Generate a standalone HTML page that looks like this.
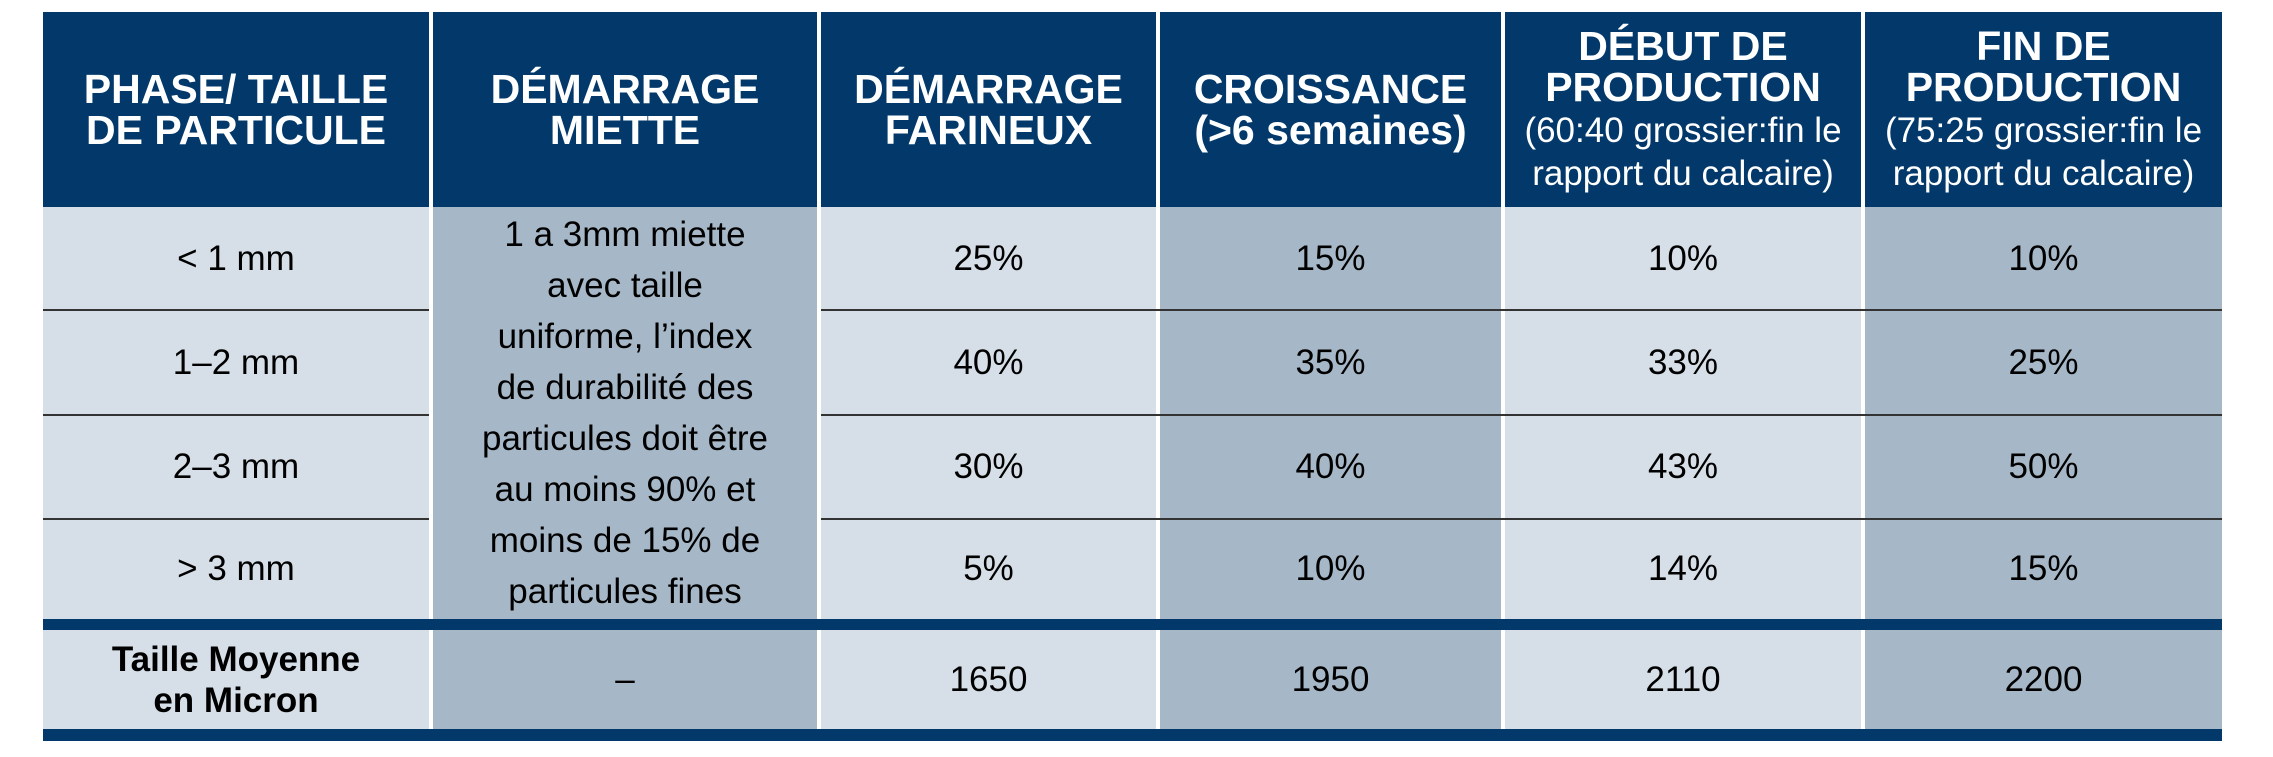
<!DOCTYPE html>
<html><head><meta charset="utf-8"><style>
body{margin:0;width:2273px;height:757px;background:#fff;position:relative;overflow:hidden;font-family:"Liberation Sans Narrow","Liberation Sans",sans-serif}
.c{position:absolute;display:flex;align-items:center;justify-content:center;text-align:center;box-sizing:border-box}
.h{background:#02386a;color:#fff;font-weight:bold;font-size:41px;line-height:41px}
.h small{font-weight:normal;font-size:35px;line-height:41px}
.l{background:#d6dfe7;color:#000;font-size:35px}
.d{background:#a6b8c8;color:#000;font-size:35px}
.sep{position:absolute;height:2px;background:#333;left:43px;width:2179px}
.band{position:absolute;background:#02386a;left:43px;width:2179px}
</style></head><body>
<div>
<!-- header -->
<div class="c h" style="left:43px;top:12px;width:386px;height:195px">PHASE/ TAILLE<br>DE PARTICULE</div>
<div class="c h" style="left:433px;top:12px;width:384px;height:195px">DÉMARRAGE<br>MIETTE</div>
<div class="c h" style="left:821px;top:12px;width:335px;height:195px">DÉMARRAGE<br>FARINEUX</div>
<div class="c h" style="left:1160px;top:12px;width:341px;height:195px">CROISSANCE<br>(&gt;6 semaines)</div>
<div class="c h" style="left:1505px;top:12px;width:356px;height:195px"><div>DÉBUT DE<br>PRODUCTION<br><small>(60:40 grossier:fin le<br>rapport du calcaire)</small></div></div>
<div class="c h" style="left:1865px;top:12px;width:357px;height:195px"><div>FIN DE<br>PRODUCTION<br><small>(75:25 grossier:fin le<br>rapport du calcaire)</small></div></div>

<!-- rows -->
<div class="c l" style="left:43px;top:207px;width:386px;height:103px">&lt; 1 mm</div>
<div class="c l" style="left:43px;top:310px;width:386px;height:105px">1–2 mm</div>
<div class="c l" style="left:43px;top:415px;width:386px;height:104px">2–3 mm</div>
<div class="c l" style="left:43px;top:519px;width:386px;height:100px">&gt; 3 mm</div>

<div class="c d" style="left:433px;top:207px;width:384px;height:412px;line-height:51px">1 a 3mm miette<br>avec taille<br>uniforme, l’index<br>de durabilité des<br>particules doit être<br>au moins 90% et<br>moins de 15% de<br>particules fines</div>

<div class="c l" style="left:821px;top:207px;width:335px;height:103px">25%</div>
<div class="c l" style="left:821px;top:310px;width:335px;height:105px">40%</div>
<div class="c l" style="left:821px;top:415px;width:335px;height:104px">30%</div>
<div class="c l" style="left:821px;top:519px;width:335px;height:100px">5%</div>

<div class="c d" style="left:1160px;top:207px;width:341px;height:103px">15%</div>
<div class="c d" style="left:1160px;top:310px;width:341px;height:105px">35%</div>
<div class="c d" style="left:1160px;top:415px;width:341px;height:104px">40%</div>
<div class="c d" style="left:1160px;top:519px;width:341px;height:100px">10%</div>

<div class="c l" style="left:1505px;top:207px;width:356px;height:103px">10%</div>
<div class="c l" style="left:1505px;top:310px;width:356px;height:105px">33%</div>
<div class="c l" style="left:1505px;top:415px;width:356px;height:104px">43%</div>
<div class="c l" style="left:1505px;top:519px;width:356px;height:100px">14%</div>

<div class="c d" style="left:1865px;top:207px;width:357px;height:103px">10%</div>
<div class="c d" style="left:1865px;top:310px;width:357px;height:105px">25%</div>
<div class="c d" style="left:1865px;top:415px;width:357px;height:104px">50%</div>
<div class="c d" style="left:1865px;top:519px;width:357px;height:100px">15%</div>

<!-- row separators (skip miette column) -->
<div class="sep" style="top:309px;width:386px"></div>
<div class="sep" style="top:309px;left:821px;width:1401px"></div>
<div class="sep" style="top:414px;width:386px"></div>
<div class="sep" style="top:414px;left:821px;width:1401px"></div>
<div class="sep" style="top:518px;width:386px"></div>
<div class="sep" style="top:518px;left:821px;width:1401px"></div>

<div class="band" style="top:619px;height:11px"></div>

<!-- summary row -->
<div class="c l" style="left:43px;top:630px;width:386px;height:99px;font-weight:bold;line-height:41px">Taille Moyenne<br>en Micron</div>
<div class="c d" style="left:433px;top:630px;width:384px;height:99px">–</div>
<div class="c l" style="left:821px;top:630px;width:335px;height:99px">1650</div>
<div class="c d" style="left:1160px;top:630px;width:341px;height:99px">1950</div>
<div class="c l" style="left:1505px;top:630px;width:356px;height:99px">2110</div>
<div class="c d" style="left:1865px;top:630px;width:357px;height:99px">2200</div>

<div class="band" style="top:729px;height:12px"></div>
</div>
</body></html>
